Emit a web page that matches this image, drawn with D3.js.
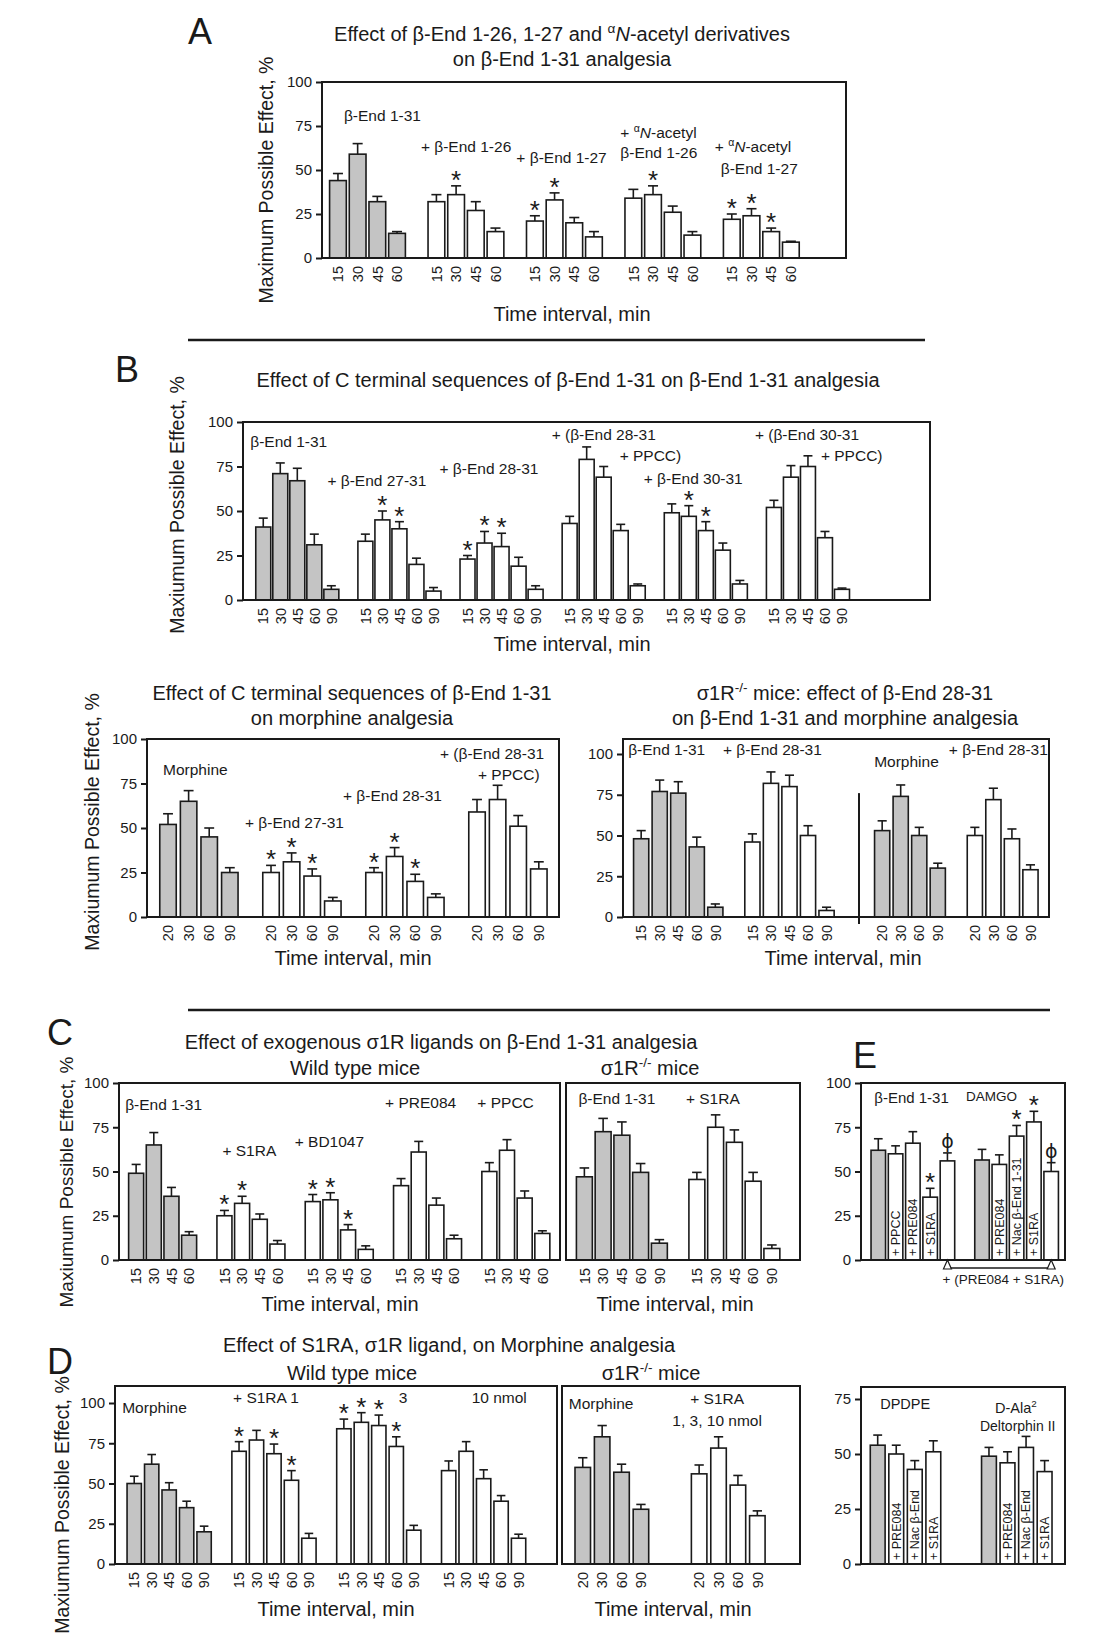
<!DOCTYPE html>
<html>
<head>
<meta charset="utf-8">
<script src="https://cdn.jsdelivr.net/npm/d3@7"></script>
<style>
  body { margin: 0; background: #fff; }
</style>
</head>
<body>
<script>
// ---------- data ----------
// A: beta-End 1-31 alone and with 1-26, 1-27 and their N-acetyl derivatives
const timesA = [15, 30, 45, 60];
const meanA = [[44, 59, 32, 14], [32, 36, 27, 15], [21, 33, 20, 12], [34, 36, 26, 13], [22, 24, 15, 9]];
const semA  = [[4, 6, 3, 1], [4, 5, 5, 2], [3, 4, 3, 3], [5, 5, 3.5, 2], [3, 4, 2, 0.5]];
const starA = [[0, 0, 0, 0], [0, 1, 0, 0], [1, 1, 0, 0], [0, 1, 0, 0], [1, 1, 1, 0]];

// B top: C terminal sequences on beta-End 1-31
const timesB = [15, 30, 45, 60, 90];
const meanB = [[41, 71, 67, 31, 6], [33, 45, 40, 20, 5], [23, 32, 30, 19, 6],
               [43, 79, 69, 39, 8], [49, 47, 39, 28, 9], [52, 69, 75, 35, 6]];
const semB  = [[5, 6, 7, 6, 2], [4, 5, 4, 3.5, 2], [2, 6.5, 7.5, 5, 2],
               [4, 7, 6, 3.5, 1], [5, 6, 5, 4, 2], [4, 6.5, 6, 3.5, 0.7]];
const starB = [[0, 0, 0, 0, 0], [0, 1, 1, 0, 0], [1, 1, 1, 0, 0], [0, 0, 0, 0, 0], [0, 1, 1, 0, 0], [0, 0, 0, 0, 0]];

// B bottom left: C terminal sequences on morphine
const timesBM = [20, 30, 60, 90];
const meanBM = [[52, 65, 45, 25], [25, 31, 23, 9], [25, 34, 20, 11], [59, 66, 51, 27]];
const semBM  = [[6, 6, 5, 2.7], [4, 5, 4, 2], [2.7, 5, 4, 2], [7, 8, 6, 4]];
const starBM = [[0, 0, 0, 0], [1, 1, 1, 0], [1, 1, 1, 0], [0, 0, 0, 0]];

// B bottom right: sigma1R-/- mice
const timesKO1 = [15, 30, 45, 60, 90];
const timesKO2 = [20, 30, 60, 90];
const meanKO1 = [[48, 77, 76, 43, 6], [46, 82, 80, 50, 4]];
const semKO1  = [[5, 7, 7, 6, 2], [5, 7, 7, 6, 2]];
const meanKO2 = [[53, 74, 50, 30], [50, 72, 48, 29]];
const semKO2  = [[6, 7, 5, 3], [5, 7, 6, 3]];

// C: exogenous sigma1R ligands on beta-End 1-31
const timesC = [15, 30, 45, 60];
const meanC = [[49, 65, 36, 14], [25, 32, 23, 9], [33, 34, 17, 6], [42, 61, 31, 12], [50, 62, 35, 15]];
const semC  = [[5, 7, 5, 2], [3, 4, 3, 2], [4, 4, 3, 2], [4, 6, 4, 2], [5, 6, 4, 1.5]];
const starC = [[0, 0, 0, 0], [1, 1, 0, 0], [1, 1, 1, 0], [0, 0, 0, 0], [0, 0, 0, 0]];
const timesCK = [15, 30, 45, 60, 90];
const meanCK = [[47, 72.5, 70.5, 49.5, 9.5], [45.5, 75, 66.5, 44.5, 6.5]];
const semCK  = [[5, 7.5, 7.5, 5, 2], [4, 7, 7, 5, 2]];

// D: S1RA on morphine
const timesD = [15, 30, 45, 60, 90];
const meanD = [[50, 62, 46, 35, 20], [70, 77, 68.5, 52, 16], [84, 88, 86, 73, 21], [58, 70, 53, 39, 16]];
const semD  = [[4.5, 6, 4.5, 4, 3.5], [6, 6, 6, 6, 3], [6, 6, 6.5, 6, 3], [6, 6, 5.5, 3.5, 2.5]];
const starD = [[0, 0, 0, 0, 0], [1, 0, 1, 1, 0], [1, 1, 1, 1, 0], [0, 0, 0, 0, 0]];
const timesDK = [20, 30, 60, 90];
const meanDK = [[60, 79, 57, 34], [56, 72, 49, 30]];
const semDK  = [[6, 7, 5, 3], [5.5, 7, 6, 3]];

// E top: beta-End 1-31 and DAMGO
const condE1 = [["", "+ PPCC", "+ PRE084", "+ S1RA", ""], ["", "+ PRE084", "+ Nac β-End 1-31", "+ S1RA", ""]];
const meanE1 = [[62, 60, 66, 35.5, 56], [56.5, 54, 70, 78, 50]];
const semE1  = [[6.5, 4.5, 6.5, 5, 4.5], [6, 5.4, 6, 6, 5]];
const markE1 = [["", "", "", "*", "ϕ"], ["", "", "*", "*", "ϕ"]];
// E bottom: DPDPE and D-Ala2 Deltorphin II
const condE2 = [["", "+ PRE084", "+ Nac β-End", "+ S1RA"], ["", "+ PRE084", "+ Nac β-End", "+ S1RA"]];
const meanE2 = [[54, 50, 43, 51], [49, 46, 53, 42]];
const semE2  = [[4.6, 4, 4, 5], [4, 5, 5, 5]];

const ticks100 = [0, 25, 50, 75, 100];
const ticks75 = [0, 25, 50, 75];

// ---------- drawing ----------
const FONT = '"Liberation Sans", Arial, Helvetica, sans-serif';
const GRAY = "#c4c4c4";
const INK = "#1a1a1a";
const TITLE = 20, LAB = 15.5, LETTER = 36;

const svg = d3.select("body").append("svg")
  .attr("width", 1118).attr("height", 1639)
  .style("font-family", FONT);

// superscript ^..^ and italic _.._ inside labels
function rich(sel, s, fs) {
  const parts = s.split(/(\^[^^]+\^|_[^_]+_)/).filter(Boolean);
  let up = false;
  parts.forEach(p => {
    const ts = sel.append("tspan");
    if (p[0] === "^") {
      ts.text(p.slice(1, -1)).attr("font-size", fs * 0.68).attr("dy", -fs * 0.42);
      up = true;
      return;
    }
    if (up) { ts.attr("dy", fs * 0.42); up = false; }
    if (p[0] === "_") ts.text(p.slice(1, -1)).attr("font-style", "italic");
    else ts.text(p);
  });
}

function txt(x, y, s, fs, a = "middle", rot = false) {
  const t = svg.append("text").attr("x", x).attr("y", y)
    .attr("font-size", fs).attr("text-anchor", a).attr("fill", INK);
  if (rot) t.attr("transform", `rotate(-90,${x},${y})`);
  rich(t, s, fs);
  return t;
}

// band scale where first/last bar centres sit lp/rp slots from the frame
function slotScale(keys, x0, x1, lp, rp, ratio) {
  const pi = 1 - ratio;
  const po = (lp + rp - 1 + pi) / 2;
  const al = (lp - ratio / 2) / (2 * po);
  return d3.scaleBand().domain(keys).range([x0, x1])
    .paddingInner(pi).paddingOuter(po).align(al);
}

function panel(p) {
  const g = svg.append("g");
  const keys = [], gk = [];
  p.groups.forEach((grp, gi) => {
    gk.push(grp.mean.map((_, i) => { const k = gi + ":" + i; keys.push(k); return k; }));
    if (gi < p.groups.length - 1) d3.range(p.gaps[gi]).forEach(j => keys.push("gap" + gi + ":" + j));
  });
  const x = slotScale(keys, p.x0, p.x1, p.lp, p.rp, p.ratio);
  const y = d3.scaleLinear().domain([0, 100]).range([p.yb, p.y100]);
  const bw = x.bandwidth();
  const cx = k => x(k) + bw / 2;

  const bars = p.groups.flatMap((grp, gi) => grp.mean.map((m, i) => ({
    k: gk[gi][i], m, s: grp.sem[i],
    mark: grp.marks ? grp.marks[i] : "",
    t: grp.times ? grp.times[i] : "",
    inner: grp.inner ? grp.inner[i] : "",
    gray: p.gray(gi, i)
  })));

  g.selectAll(null).data(bars).join("rect")
    .attr("x", d => x(d.k)).attr("y", d => y(d.m))
    .attr("width", bw).attr("height", d => y(0) - y(d.m))
    .attr("fill", d => d.gray ? GRAY : "#fff")
    .attr("stroke", INK).attr("stroke-width", 1.6);

  const cap = bw * 0.3;
  const eb = g.selectAll(null).data(bars).join("g")
    .attr("stroke", INK).attr("stroke-width", 1.6);
  eb.append("line")
    .attr("x1", d => cx(d.k)).attr("x2", d => cx(d.k))
    .attr("y1", d => y(d.m)).attr("y2", d => y(d.m + d.s));
  eb.append("line")
    .attr("x1", d => cx(d.k) - cap).attr("x2", d => cx(d.k) + cap)
    .attr("y1", d => y(d.m + d.s)).attr("y2", d => y(d.m + d.s));

  g.selectAll(null).data(bars.filter(d => d.mark)).join("text")
    .attr("x", d => cx(d.k))
    .attr("y", d => y(d.m + d.s) + (d.mark === "*" ? 3 : -5))
    .attr("text-anchor", "middle")
    .attr("font-size", d => d.mark === "*" ? 26 : 19)
    .attr("font-family", d => d.mark === "*" ? FONT : '"DejaVu Sans", sans-serif')
    .attr("fill", INK)
    .text(d => d.mark);

  g.selectAll(null).data(bars.filter(d => d.inner)).join("text")
    .attr("transform", d => `translate(${cx(d.k) + 4.4},${p.yb - 4}) rotate(-90)`)
    .attr("font-size", 12.5).attr("fill", INK)
    .text(d => d.inner);

  g.append("rect")
    .attr("x", p.x0).attr("y", p.yt)
    .attr("width", p.x1 - p.x0).attr("height", p.yb - p.yt)
    .attr("fill", "none").attr("stroke", INK).attr("stroke-width", 2);

  if (p.ticks) {
    const ay = g.append("g").attr("transform", `translate(${p.x0},0)`)
      .call(d3.axisLeft(y).tickValues(p.ticks).tickSize(6).tickPadding(4))
      .attr("font-size", 15).attr("font-family", FONT);
    ay.select(".domain").remove();
    ay.selectAll("line").attr("stroke", INK).attr("stroke-width", 2);
    ay.selectAll("text").attr("fill", INK);
  }

  if (p.xTicks !== false) {
    const tmap = new Map(bars.map(d => [d.k, d.t]));
    const ax = g.append("g").attr("transform", `translate(0,${p.yb})`)
      .call(d3.axisBottom(x).tickValues(bars.map(d => d.k)).tickFormat(k => tmap.get(k)).tickSize(0))
      .attr("font-size", 14.5).attr("font-family", FONT);
    ax.select(".domain").remove();
    ax.selectAll("text")
      .attr("transform", "rotate(-90)").attr("text-anchor", "end")
      .attr("x", -8).attr("y", 0).attr("dy", "0.36em").attr("fill", INK);
  }

  (p.labels || []).forEach(l => {
    const fs = l.fs || LAB;
    const t = g.append("text")
      .attr("x", cx(gk[l.g][0]) + l.dx).attr("y", y(l.v))
      .attr("font-size", fs).attr("text-anchor", l.a || "start").attr("fill", INK);
    rich(t, l.t, fs);
  });

  return { x, y, cx, gk, bw };
}

function series(means, sems, stars, times) {
  return means.map((m, gi) => ({
    mean: m, sem: sems[gi],
    marks: stars ? stars[gi].map(s => s ? "*" : "") : null,
    times
  }));
}

const firstGray = gi => gi === 0;

// ----- A -----
txt(188, 44, "A", LETTER, "start");
txt(562, 41, "Effect of β-End 1-26, 1-27 and ^α^_N_-acetyl derivatives", TITLE);
txt(562, 66, "on β-End 1-31 analgesia", TITLE);
panel({
  x0: 322, x1: 846, yt: 82, yb: 258, y100: 82, lp: 0.81, rp: 2.8, ratio: 0.85,
  gaps: [1, 1, 1, 1], groups: series(meanA, semA, starA, timesA),
  gray: firstGray, ticks: ticks100,
  labels: [
    { g: 0, dx: 6, v: 78, t: "β-End 1-31" },
    { g: 1, dx: -15.5, v: 60, t: "+ β-End 1-26" },
    { g: 2, dx: -18.5, v: 54, t: "+ β-End 1-27" },
    { g: 3, dx: -13, v: 68, t: "+ ^α^_N_-acetyl" },
    { g: 3, dx: -13, v: 57, t: "β-End 1-26" },
    { g: 4, dx: -17, v: 60, t: "+ ^α^_N_-acetyl" },
    { g: 4, dx: -11, v: 48, t: "β-End 1-27" }
  ]
});
txt(273, 180, "Maximum Possible Effect, %", 19.5, "middle", true);
txt(572, 321, "Time interval, min", TITLE);

svg.append("line").attr("x1", 188).attr("x2", 925).attr("y1", 340).attr("y2", 340)
  .attr("stroke", INK).attr("stroke-width", 2.5);

// ----- B top -----
txt(115, 382, "B", LETTER, "start");
txt(568, 387, "Effect of C terminal sequences of β-End 1-31 on β-End 1-31 analgesia", TITLE);
panel({
  x0: 243, x1: 930, yt: 422, yb: 600, y100: 422, lp: 1.19, rp: 5.17, ratio: 0.88,
  gaps: [1, 1, 1, 1, 1], groups: series(meanB, semB, starB, timesB),
  gray: firstGray, ticks: ticks100,
  labels: [
    { g: 0, dx: -13, v: 86, t: "β-End 1-31" },
    { g: 1, dx: -38, v: 64, t: "+ β-End 27-31" },
    { g: 2, dx: -28, v: 71, t: "+ β-End 28-31" },
    { g: 3, dx: -18, v: 90, t: "+ (β-End 28-31" },
    { g: 3, dx: 50, v: 78, t: "+ PPCC)" },
    { g: 4, dx: -28, v: 65, t: "+ β-End 30-31" },
    { g: 5, dx: -19, v: 90, t: "+ (β-End 30-31" },
    { g: 5, dx: 47, v: 78, t: "+ PPCC)" }
  ]
});
txt(184, 505, "Maxiumum Possible Effect, %", 19.5, "middle", true);
txt(572, 651, "Time interval, min", TITLE);

// ----- B bottom left -----
txt(352, 700, "Effect of C terminal sequences of β-End 1-31", TITLE);
txt(352, 725, "on morphine analgesia", TITLE);
panel({
  x0: 147, x1: 559, yt: 739, yb: 917, y100: 739, lp: 1.02, rp: 0.98, ratio: 0.8,
  gaps: [1, 1, 1], groups: series(meanBM, semBM, starBM, timesBM),
  gray: firstGray, ticks: ticks100,
  labels: [
    { g: 0, dx: -5, v: 79.5, t: "Morphine" },
    { g: 1, dx: -26, v: 50, t: "+ β-End 27-31" },
    { g: 2, dx: -31, v: 65, t: "+ β-End 28-31" },
    { g: 3, dx: -37, v: 89, t: "+ (β-End 28-31" },
    { g: 3, dx: 1, v: 77, t: "+ PPCC)" }
  ]
});
txt(99, 822, "Maxiumum Possible Effect, %", 19.5, "middle", true);
txt(353, 965, "Time interval, min", TITLE);

// ----- B bottom right -----
txt(845, 700, "σ1R^-/-^ mice: effect of β-End 28-31", TITLE);
txt(845, 725, "on β-End 1-31 and morphine analgesia", TITLE);
const BR = panel({
  x0: 623, x1: 1049, yt: 739, yb: 917, y100: 754, lp: 0.98, rp: 1.0, ratio: 0.82,
  gaps: [1, 2, 1],
  groups: [
    ...series(meanKO1, semKO1, null, timesKO1),
    ...series(meanKO2, semKO2, null, timesKO2)
  ],
  gray: gi => gi === 0 || gi === 2, ticks: ticks100,
  labels: [
    { g: 0, dx: -13, v: 99.4, t: "β-End 1-31" },
    { g: 1, dx: -29.5, v: 99.4, t: "+ β-End 28-31" },
    { g: 2, dx: -8, v: 92, t: "Morphine" },
    { g: 3, dx: -26, v: 99.4, t: "+ β-End 28-31" }
  ]
});
const dvx = BR.cx(BR.gk[1][4]) + 1.75 * BR.x.step();
svg.append("line").attr("x1", dvx).attr("x2", dvx)
  .attr("y1", BR.y(76)).attr("y2", BR.y(0) + 7)
  .attr("stroke", INK).attr("stroke-width", 2);
txt(843, 965, "Time interval, min", TITLE);

svg.append("line").attr("x1", 188).attr("x2", 1050).attr("y1", 1010).attr("y2", 1010)
  .attr("stroke", INK).attr("stroke-width", 2.5);

// ----- C -----
txt(47, 1045, "C", LETTER, "start");
txt(441, 1049, "Effect of exogenous σ1R ligands on β-End 1-31 analgesia", TITLE);
txt(355, 1075, "Wild type mice", TITLE);
txt(650, 1075, "σ1R^-/-^ mice", TITLE);
panel({
  x0: 119, x1: 560, yt: 1083, yb: 1260, y100: 1083, lp: 0.97, rp: 1.0, ratio: 0.85,
  gaps: [1, 1, 1, 1], groups: series(meanC, semC, starC, timesC),
  gray: firstGray, ticks: ticks100,
  labels: [
    { g: 0, dx: -11, v: 85, t: "β-End 1-31" },
    { g: 1, dx: -2, v: 58.5, t: "+ S1RA" },
    { g: 2, dx: -18, v: 64, t: "+ BD1047" },
    { g: 3, dx: -16, v: 86, t: "+ PRE084" },
    { g: 4, dx: -12, v: 86, t: "+ PPCC" }
  ]
});
panel({
  x0: 566, x1: 800, yt: 1083, yb: 1260, y100: 1083, lp: 0.98, rp: 1.5, ratio: 0.85,
  gaps: [1], groups: series(meanCK, semCK, null, timesCK),
  gray: firstGray, ticks: null,
  labels: [
    { g: 0, dx: -6, v: 88, t: "β-End 1-31" },
    { g: 1, dx: -11, v: 88, t: "+ S1RA" }
  ]
});
txt(73, 1182, "Maxiumum Possible Effect, %", 19, "middle", true);
txt(340, 1311, "Time interval, min", TITLE);
txt(675, 1311, "Time interval, min", TITLE);

// ----- E top -----
txt(853, 1068, "E", LETTER, "start");
const E1 = panel({
  x0: 861, x1: 1065, yt: 1083, yb: 1260, y100: 1083, lp: 1.0, rp: 0.8, ratio: 0.84,
  gaps: [1],
  groups: meanE1.map((m, gi) => ({ mean: m, sem: semE1[gi], marks: markE1[gi], inner: condE1[gi] })),
  gray: (gi, i) => i === 0, ticks: ticks100, xTicks: false,
  labels: [
    { g: 0, dx: -4, v: 88.6, t: "β-End 1-31", fs: 15 },
    { g: 1, dx: -16, v: 90, t: "DAMGO", fs: 13.5 }
  ]
});
{
  const bx1 = E1.cx(E1.gk[0][4]), bx2 = E1.cx(E1.gk[1][4]), by = 1268;
  svg.append("line").attr("x1", bx1).attr("x2", bx2).attr("y1", by).attr("y2", by)
    .attr("stroke", INK).attr("stroke-width", 1.4);
  [bx1, bx2].forEach(bx => {
    svg.append("path").attr("d", `M${bx - 4},${by + 1}L${bx},${by - 8}L${bx + 4},${by + 1}Z`)
      .attr("fill", "#fff").attr("stroke", INK).attr("stroke-width", 1.2);
  });
  txt((bx1 + bx2) / 2 + 4, by + 16, "+ (PRE084 + S1RA)", 13.5);
}

// ----- D -----
txt(47, 1374, "D", LETTER, "start");
txt(449, 1352, "Effect of S1RA, σ1R ligand, on Morphine analgesia", TITLE);
txt(352, 1380, "Wild type mice", TITLE);
txt(651, 1380, "σ1R^-/-^ mice", TITLE);
panel({
  x0: 115, x1: 557, yt: 1386, yb: 1564, y100: 1403, lp: 1.1, rp: 2.2, ratio: 0.82,
  gaps: [1, 1, 1], groups: series(meanD, semD, starD, timesD),
  gray: firstGray, ticks: ticks100,
  labels: [
    { g: 0, dx: -12, v: 93.7, t: "Morphine" },
    { g: 1, dx: -6, v: 100, t: "+ S1RA 1" },
    { g: 2, dx: 55, v: 100, t: "3" },
    { g: 3, dx: 23, v: 100, t: "10 nmol" }
  ]
});
panel({
  x0: 562, x1: 800, yt: 1386, yb: 1564, y100: 1403, lp: 1.07, rp: 2.2, ratio: 0.8,
  gaps: [2], groups: series(meanDK, semDK, null, timesDK),
  gray: firstGray, ticks: null,
  labels: [
    { g: 0, dx: -14, v: 96, t: "Morphine" },
    { g: 1, dx: 18, v: 99.4, t: "+ S1RA", a: "middle" },
    { g: 1, dx: 18, v: 86, t: "1, 3, 10 nmol", a: "middle" }
  ]
});
txt(69, 1505, "Maxiumum Possible Effect, %", 19.5, "middle", true);
txt(336, 1616, "Time interval, min", TITLE);
txt(673, 1616, "Time interval, min", TITLE);

// ----- E bottom -----
panel({
  x0: 861, x1: 1065, yt: 1387, yb: 1564, y100: 1344, lp: 0.9, rp: 1.1, ratio: 0.8,
  gaps: [2],
  groups: meanE2.map((m, gi) => ({ mean: m, sem: semE2[gi], inner: condE2[gi] })),
  gray: (gi, i) => i === 0, ticks: ticks75, xTicks: false,
  labels: [
    { g: 0, dx: 2.5, v: 70.5, t: "DPDPE", fs: 14.5 },
    { g: 1, dx: 6, v: 68.6, t: "D-Ala^2^", fs: 14.5 },
    { g: 1, dx: -9, v: 60.5, t: "Deltorphin II", fs: 14 }
  ]
});
</script>
</body>
</html>
